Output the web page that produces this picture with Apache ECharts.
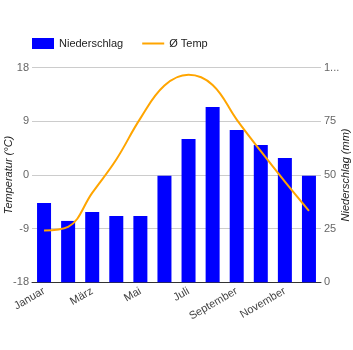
<!DOCTYPE html>
<html><head><meta charset="utf-8">
<script src="https://cdn.jsdelivr.net/npm/echarts@6/dist/echarts.min.js"></script>
<style>html,body{margin:0;padding:0;background:#fff}#c{width:353px;height:350px}</style>
</head><body><div id="c"></div>
<script>
var months = ['Januar','Februar','März','April','Mai','Juni','Juli','August','September','Oktober','November','Dezember'];
var precipitation = [37.0, 28.6, 32.8, 30.9, 30.9, 49.7, 66.8, 81.7, 71.0, 64.0, 57.9, 49.6];
var temperature = [-9.3, -8.7, -3.0, 2.6, 9.5, 15.0, 16.8, 15.1, 9.3, 4.0, -1.1, -6.0];
var font = 'Liberation Sans, Arial, sans-serif';
var chart = echarts.init(document.getElementById('c'));
chart.setOption({
  animation: false,
  textStyle: {fontFamily: font},
  legend: {
    left: 27, top: 33, itemWidth: 22, itemHeight: 11, itemGap: 18,
    textStyle: {fontSize: 11, color: '#222', fontFamily: font},
    data: [{name: 'Niederschlag', icon: 'rect'}, {name: 'Ø Temp', itemStyle: {opacity: 0}}]
  },
  grid: {left: 32, right: 32, top: 67.7, bottom: 67.7, containLabel: false, outerBoundsMode: 'none'},
  xAxis: {
    type: 'category', data: months, boundaryGap: true,
    axisLine: {onZero: false, lineStyle: {color: '#333'}},
    axisTick: {show: false},
    axisLabel: {interval: 1, rotate: 30, color: '#444', fontSize: 11, fontFamily: font, margin: 8}
  },
  yAxis: [{
    type: 'value', min: -18, max: 18, interval: 9,
    name: 'Temperatur (°C)', nameLocation: 'middle', nameGap: 18, nameMoveOverlap: false,
    nameTextStyle: {fontStyle: 'italic', color: '#222', fontSize: 11, fontFamily: font},
    axisLabel: {color: '#666', fontSize: 11, fontFamily: font, margin: 3},
    splitLine: {lineStyle: {color: '#ccc'}},
    axisLine: {show: false}, axisTick: {show: false}
  }, {
    type: 'value', min: 0, max: 100, interval: 25,
    name: 'Niederschlag (mm)', nameLocation: 'middle', nameGap: 19, nameMoveOverlap: false,
    nameTextStyle: {fontStyle: 'italic', color: '#222', fontSize: 11, fontFamily: font},
    axisLabel: {color: '#666', fontSize: 11, fontFamily: font, margin: 3,
      formatter: function (v) { return v === 100 ? '1...' : String(v); }},
    splitLine: {show: false},
    axisLine: {show: false}, axisTick: {show: false}
  }],
  series: [{
    name: 'Niederschlag', type: 'bar', yAxisIndex: 1, data: precipitation,
    barWidth: 14, itemStyle: {color: '#0000ff'}
  }, {
    name: 'Ø Temp', type: 'line', yAxisIndex: 0, data: temperature,
    smooth: 0.4, symbol: 'none', lineStyle: {color: '#ffa500', width: 2}, itemStyle: {color: '#ffa500'}
  }]
});
</script></body></html>
